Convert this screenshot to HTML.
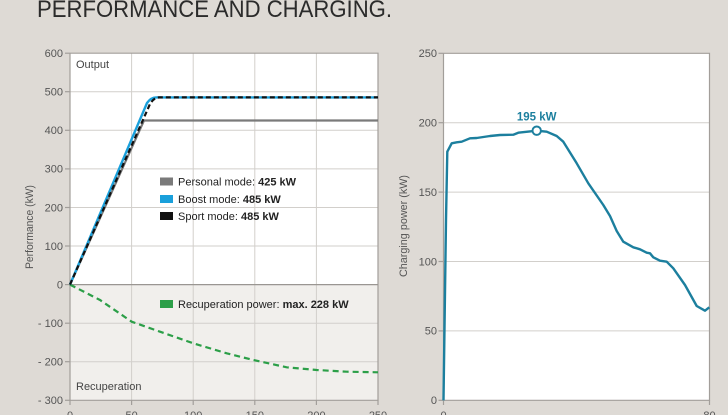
<!DOCTYPE html>
<html><head><meta charset="utf-8"><style>
html,body{margin:0;padding:0;background:#dedad5;}
svg{display:block;font-family:"Liberation Sans",sans-serif;}
</style></head><body>
<svg width="728" height="415" viewBox="0 0 728 415" xmlns="http://www.w3.org/2000/svg">
<rect x="0" y="0" width="728" height="415" fill="#dedad5"/>
<text x="37" y="17" font-size="24" fill="#2b2b2b" textLength="355" lengthAdjust="spacingAndGlyphs">PERFORMANCE AND CHARGING.</text>

<!-- LEFT CHART -->
<rect x="70" y="53.2" width="308" height="231.4" fill="#ffffff"/>
<rect x="70" y="284.6" width="308" height="115.7" fill="#f1efec"/>
<g stroke="#d2cfcb" stroke-width="1">
<line x1="70" y1="91.7" x2="378" y2="91.7"/>
<line x1="70" y1="130.3" x2="378" y2="130.3"/>
<line x1="70" y1="168.9" x2="378" y2="168.9"/>
<line x1="70" y1="207.5" x2="378" y2="207.5"/>
<line x1="70" y1="246" x2="378" y2="246"/>
<line x1="70" y1="323.2" x2="378" y2="323.2"/>
<line x1="70" y1="361.7" x2="378" y2="361.7"/>
<line x1="131.6" y1="53.2" x2="131.6" y2="400.3"/>
<line x1="193.2" y1="53.2" x2="193.2" y2="400.3"/>
<line x1="254.8" y1="53.2" x2="254.8" y2="400.3"/>
<line x1="316.4" y1="53.2" x2="316.4" y2="400.3"/>
</g>
<g stroke="#a29e9a" stroke-width="1.2" fill="none">
<polyline points="70,53.2 378,53.2 378,400.3 70,400.3 70,53.2"/>
<line x1="70" y1="284.6" x2="378" y2="284.6" stroke="#9a9692"/>
<line x1="65" y1="53.2" x2="70" y2="53.2"/>
<line x1="65" y1="91.7" x2="70" y2="91.7"/>
<line x1="65" y1="130.3" x2="70" y2="130.3"/>
<line x1="65" y1="168.9" x2="70" y2="168.9"/>
<line x1="65" y1="207.5" x2="70" y2="207.5"/>
<line x1="65" y1="246" x2="70" y2="246"/>
<line x1="65" y1="284.6" x2="70" y2="284.6"/>
<line x1="65" y1="323.2" x2="70" y2="323.2"/>
<line x1="65" y1="361.7" x2="70" y2="361.7"/>
<line x1="65" y1="400.3" x2="70" y2="400.3"/>
<line x1="70" y1="400.3" x2="70" y2="405"/>
<line x1="131.6" y1="400.3" x2="131.6" y2="405"/>
<line x1="193.2" y1="400.3" x2="193.2" y2="405"/>
<line x1="254.8" y1="400.3" x2="254.8" y2="405"/>
<line x1="316.4" y1="400.3" x2="316.4" y2="405"/>
<line x1="378" y1="400.3" x2="378" y2="405"/>
</g>
<g font-size="11" fill="#555" text-anchor="end">
<text x="63" y="57">600</text>
<text x="63" y="95.5">500</text>
<text x="63" y="134">400</text>
<text x="63" y="172.7">300</text>
<text x="63" y="211.3">200</text>
<text x="63" y="249.8">100</text>
<text x="63" y="288.4">0</text>
<text x="63" y="327">- 100</text>
<text x="63" y="365.5">- 200</text>
<text x="63" y="404.1">- 300</text>
</g>
<g font-size="11" fill="#555" text-anchor="middle">
<text x="70" y="419">0</text>
<text x="131.6" y="419">50</text>
<text x="193.2" y="419">100</text>
<text x="254.8" y="419">150</text>
<text x="316.4" y="419">200</text>
<text x="378" y="419">250</text>
</g>
<text transform="translate(33,227) rotate(-90)" font-size="11" fill="#555" text-anchor="middle" textLength="84" lengthAdjust="spacingAndGlyphs">Performance (kW)</text>
<text x="76" y="68" font-size="11" fill="#444">Output</text>
<text x="76" y="390" font-size="11" fill="#444">Recuperation</text>

<!-- series -->
<polyline points="70,284.6 100,300 131.7,321.7 160,331.7 193.3,343.3 226.7,353.3 253.3,360 286.7,367.3 316.7,370 346.7,371.7 378,372.3" fill="none" stroke="#2c9f48" stroke-width="2.2" stroke-dasharray="6,4"/>
<path d="M70,284.6 L144,120.5 L378,120.5" fill="none" stroke="#7a7a7a" stroke-width="2.2"/>
<path d="M70,284.6 L147,103 Q151,97.4 156,97.4 L378,97.4" fill="none" stroke="#1aa0db" stroke-width="2.4"/>
<path d="M70,284.6 L150,104 Q154,97.4 159,97.4 L378,97.4" fill="none" stroke="#111" stroke-width="2.2" stroke-dasharray="5,3"/>

<!-- legend -->
<rect x="160" y="177.5" width="13" height="8" fill="#7a7a7a"/>
<rect x="160" y="195" width="13" height="8" fill="#1aa0db"/>
<rect x="160" y="212" width="13" height="8" fill="#111"/>
<g font-size="11" fill="#222">
<text x="178" y="185.5">Personal mode: <tspan font-weight="bold">425 kW</tspan></text>
<text x="178" y="203">Boost mode: <tspan font-weight="bold">485 kW</tspan></text>
<text x="178" y="220">Sport mode: <tspan font-weight="bold">485 kW</tspan></text>
</g>
<rect x="160" y="300" width="13" height="8" fill="#2c9f48"/>
<text x="178" y="308" font-size="11" fill="#222">Recuperation power: <tspan font-weight="bold">max. 228 kW</tspan></text>

<!-- RIGHT CHART -->
<rect x="443.5" y="53.3" width="266" height="347" fill="#ffffff"/>
<g stroke="#d2cfcb" stroke-width="1">
<line x1="443.5" y1="122.7" x2="709.5" y2="122.7"/>
<line x1="443.5" y1="192.1" x2="709.5" y2="192.1"/>
<line x1="443.5" y1="261.5" x2="709.5" y2="261.5"/>
<line x1="443.5" y1="330.9" x2="709.5" y2="330.9"/>
</g>
<g stroke="#a29e9a" stroke-width="1.2" fill="none">
<polyline points="443.5,53.3 709.5,53.3 709.5,400.3 443.5,400.3 443.5,53.3"/>
<line x1="438.5" y1="53.3" x2="443.5" y2="53.3"/>
<line x1="438.5" y1="122.7" x2="443.5" y2="122.7"/>
<line x1="438.5" y1="192.1" x2="443.5" y2="192.1"/>
<line x1="438.5" y1="261.5" x2="443.5" y2="261.5"/>
<line x1="438.5" y1="330.9" x2="443.5" y2="330.9"/>
<line x1="438.5" y1="400.3" x2="443.5" y2="400.3"/>
<line x1="443.5" y1="400.3" x2="443.5" y2="405"/>
<line x1="709.5" y1="400.3" x2="709.5" y2="405"/>
</g>
<g font-size="11" fill="#555" text-anchor="end">
<text x="437" y="57.1">250</text>
<text x="437" y="126.5">200</text>
<text x="437" y="195.9">150</text>
<text x="437" y="265.3">100</text>
<text x="437" y="334.7">50</text>
<text x="437" y="404.1">0</text>
</g>
<g font-size="11" fill="#555" text-anchor="middle">
<text x="443.5" y="419">0</text>
<text x="709.5" y="419">80</text>
</g>
<text transform="translate(407,226) rotate(-90)" font-size="11" fill="#555" text-anchor="middle" textLength="102" lengthAdjust="spacingAndGlyphs">Charging power (kW)</text>

<polyline points="443.5,400.3 446,220 447.3,151.7 451.7,143.3 456.7,142.3 461.7,141.7 470,138.3 476.7,138 490,136 500,135 513.3,134.7 518.3,132.7 536.7,130.7 546.7,131.7 556.7,136 563.3,141.7 576.7,163.3 588.3,183.3 603.3,205 610,216 616.7,231 623.3,241.7 633.3,247.3 640,249.3 646.7,252.7 650,253.3 653.3,257.3 660,260.7 666.7,261.7 673.3,268.3 685,285 696.7,306 705,310.7 709.3,307.3" fill="none" stroke="#1c7f9e" stroke-width="2.4" stroke-linejoin="round"/>
<circle cx="536.7" cy="130.7" r="4.2" fill="#fff" stroke="#1c7f9e" stroke-width="2"/>
<text x="536.7" y="120.7" font-size="11.5" font-weight="bold" fill="#1c7f9e" text-anchor="middle">195 kW</text>
</svg>
</body></html>
